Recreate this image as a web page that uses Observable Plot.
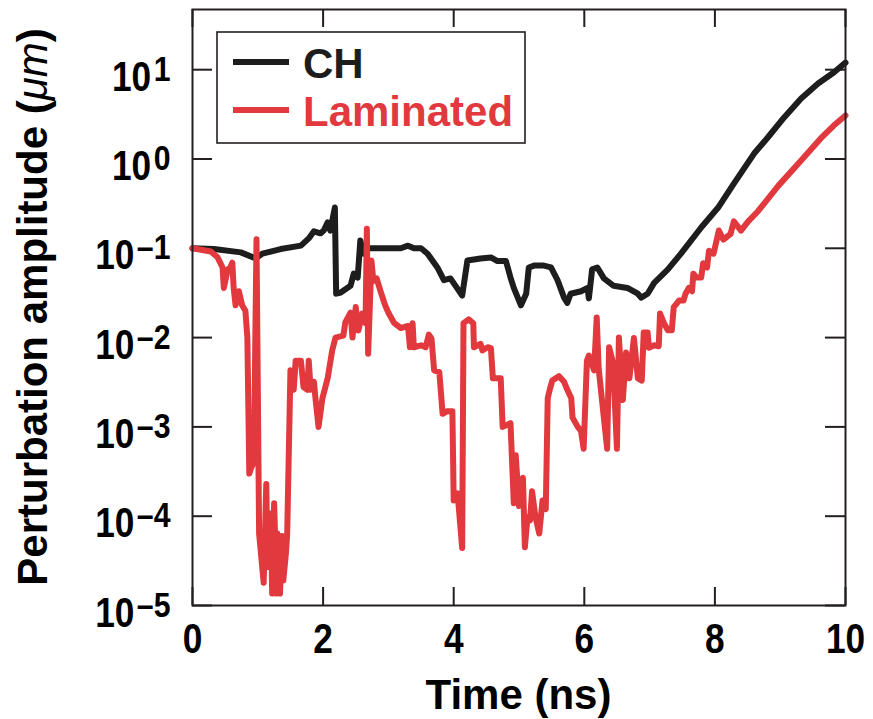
<!DOCTYPE html>
<html><head><meta charset="utf-8">
<script src="https://cdn.jsdelivr.net/npm/d3@7"></script>
<script src="https://cdn.jsdelivr.net/npm/@observablehq/plot@0.6"></script>
<style>body{margin:0;background:#fff}#chart{width:873px;height:719px}</style>
</head><body><div id="chart"></div>
<script>
// ---- data (time in ns, amplitude in µm) ----
const chTime = [0,0.33,0.74,0.97,1.07,1.35,1.66,1.78,1.86,1.96,2.01,2.07,2.11,2.18,2.20,2.27,2.42,2.47,2.53,2.57,2.62,2.68,2.99,3.19,3.30,3.39,3.50,3.60,3.75,3.85,3.95,4.13,4.21,4.41,4.57,4.67,4.80,4.87,4.92,5.03,5.11,5.15,5.23,5.38,5.49,5.59,5.69,5.74,5.79,5.95,6.05,6.07,6.12,6.20,6.30,6.45,6.66,6.82,6.87,6.97,7.07,7.28,7.48,7.79,8.05,8.29,8.60,8.81,9.06,9.32,9.58,9.82,10.0];
const chAmp = [0.100,0.098,0.090,0.077,0.087,0.098,0.107,0.129,0.155,0.147,0.158,0.195,0.158,0.286,0.031,0.032,0.038,0.052,0.047,0.122,0.087,0.100,0.100,0.100,0.107,0.100,0.100,0.087,0.061,0.044,0.046,0.0295,0.073,0.077,0.079,0.072,0.072,0.047,0.036,0.023,0.031,0.061,0.064,0.064,0.061,0.044,0.028,0.0245,0.031,0.033,0.036,0.0275,0.058,0.061,0.046,0.038,0.036,0.031,0.028,0.031,0.041,0.058,0.087,0.171,0.286,0.53,1.15,1.74,2.92,4.77,7.0,9.3,12.0];

const lamTime = [0,0.28,0.38,0.46,0.48,0.54,0.58,0.61,0.63,0.66,0.71,0.76,0.81,0.84,0.87,0.90,0.94,0.98,1.02,1.09,1.13,1.15,1.20,1.22,1.25,1.29,1.30,1.34,1.37,1.39,1.43,1.45,1.50,1.55,1.58,1.66,1.70,1.76,1.78,1.81,1.86,1.88,1.93,1.99,2.07,2.14,2.19,2.31,2.34,2.42,2.45,2.50,2.54,2.60,2.65,2.67,2.69,2.74,2.77,2.82,2.88,2.95,3.00,3.09,3.19,3.30,3.33,3.37,3.39,3.50,3.57,3.62,3.66,3.70,3.78,3.83,3.90,3.98,4.00,4.06,4.13,4.15,4.23,4.30,4.31,4.41,4.44,4.52,4.57,4.60,4.72,4.75,4.87,4.92,4.95,5.00,5.06,5.09,5.13,5.17,5.20,5.25,5.31,5.36,5.41,5.44,5.47,5.51,5.61,5.69,5.74,5.80,5.82,5.90,5.95,5.99,6.04,6.07,6.15,6.19,6.22,6.35,6.38,6.44,6.50,6.53,6.59,6.64,6.69,6.76,6.82,6.88,6.91,6.97,6.99,7.07,7.14,7.16,7.22,7.28,7.34,7.37,7.45,7.52,7.55,7.60,7.65,7.67,7.72,7.79,7.82,7.88,7.91,7.98,8.06,8.13,8.24,8.29,8.40,8.51,8.66,8.97,9.32,9.62,9.82,10.0];
const lamAmp = [0.100,0.092,0.080,0.061,0.036,0.058,0.061,0.069,0.036,0.023,0.033,0.023,0.020,0.010,0.00030,0.00035,0.00040,0.126,0.000064,0.000018,0.00023,0.000027,0.000107,0.0000136,0.00014,0.0000136,0.000064,0.0000136,0.00006,0.000019,0.000038,0.000064,0.0043,0.0026,0.0055,0.0055,0.0028,0.0026,0.0055,0.0026,0.0032,0.0022,0.0010,0.0021,0.0035,0.0072,0.010,0.0105,0.0148,0.019,0.010,0.022,0.012,0.0186,0.0145,0.166,0.0066,0.073,0.043,0.046,0.033,0.023,0.019,0.0145,0.0128,0.0135,0.0078,0.0145,0.0078,0.0082,0.0078,0.0108,0.0098,0.0043,0.0041,0.0014,0.0015,0.0015,0.00015,0.00018,0.000044,0.0145,0.016,0.0145,0.0078,0.0085,0.0072,0.0078,0.0076,0.0035,0.0035,0.0010,0.0011,0.00014,0.00048,0.00013,0.00027,0.000045,0.000097,0.00009,0.00019,0.0001,0.000064,0.00015,0.00012,0.0021,0.0026,0.0033,0.0037,0.0032,0.0026,0.0021,0.00127,0.0010,0.0009,0.00057,0.0055,0.0063,0.0043,0.0168,0.0045,0.00057,0.0078,0.0052,0.00057,0.010,0.0020,0.0068,0.0035,0.0099,0.0035,0.0033,0.0114,0.0114,0.0077,0.0082,0.0080,0.0186,0.0145,0.0121,0.0121,0.022,0.026,0.026,0.031,0.036,0.033,0.052,0.047,0.047,0.068,0.061,0.094,0.087,0.158,0.125,0.145,0.20,0.158,0.20,0.26,0.50,0.96,1.7,2.37,3.07];

const xTicks = [0,2,4,6,8,10];
const yTicks = [1e-5,1e-4,1e-3,1e-2,1e-1,1,10];
const seriesNames = ["CH","Laminated"];
const seriesColors = ["#1d1d1d","#e1393e"];
const xTitle = "Time (ns)";
const yTitle = "Perturbation amplitude (";
const yUnit = "\u03bcm";

// ---- table ----
const rows = [
  ...chTime.map((t,i)=>({series:seriesNames[0], t, amp:chAmp[i]})),
  ...lamTime.map((t,i)=>({series:seriesNames[1], t, amp:lamAmp[i]}))
];

function hasFont(name){
  const c=document.createElement("canvas").getContext("2d");
  c.font='bold 42px monospace'; const a=c.measureText("10abcmW").width;
  c.font='bold 42px "'+name+'", monospace'; const b=c.measureText("10abcmW").width;
  return Math.abs(a-b)>0.5;
}
const narrow = hasFont("Liberation Sans Narrow");
const labelFont = '"Liberation Sans", Arial, Helvetica, sans-serif';
const tickFont = narrow ? '"Liberation Sans Narrow", "Arial Narrow", sans-serif' : labelFont;
const squeeze = narrow ? 1 : 0.84;

const W=873,H=719,mL=192,mR=28,mT=9,mB=114;
const pw=W-mL-mR, ph=H-mT-mB;
const ink="#231f20";

const plot = Plot.plot({
  width:W, height:H, marginLeft:mL, marginRight:mR, marginTop:mT, marginBottom:mB,
  style:{background:"#fff", fontFamily:labelFont},
  x:{domain:[0,10]},
  y:{type:"log", domain:[1e-5, 47.2]},
  color:{domain:seriesNames, range:seriesColors},
  marks:[
    Plot.axisX(xTicks,{anchor:"bottom", tickSize:0, tickPadding:18, label:null, tickFormat:d=>String(d), fontSize:42, fontWeight:"bold", fontFamily:tickFont, fill:"#000"}),
    Plot.axisY(yTicks,{anchor:"left", tickSize:0, tickPadding:22, label:null, tickFormat:d=>String(Math.round(Math.log10(d))), fontSize:42, fontWeight:"bold", fontFamily:tickFont, fill:"#000"}),
    Plot.tickY(yTicks,{y:d=>d, insetRight:pw-20, stroke:ink, strokeWidth:2}),
    Plot.tickY(yTicks,{y:d=>d, insetLeft:pw-20, stroke:ink, strokeWidth:2}),
    Plot.tickX(xTicks,{x:d=>d, insetTop:ph-18, stroke:ink, strokeWidth:2}),
    Plot.tickX(xTicks,{x:d=>d, insetBottom:ph-18, stroke:ink, strokeWidth:2}),
    Plot.line(rows,{x:"t", y:"amp", z:"series", stroke:"series", strokeWidth:6, strokeLinejoin:"round", strokeLinecap:"round"}),
    Plot.frame({stroke:ink, strokeWidth:2})
  ]
});
document.getElementById("chart").appendChild(plot);

const svg = d3.select(plot);
// superscript y tick labels
svg.selectAll('g[aria-label="y-axis tick label"] text').each(function(){
  const t=d3.select(this); const e=t.text();
  t.text(null); t.attr("y","0.5em").attr("dy",null);
  t.append("tspan").text("10");
  t.append("tspan").attr("font-size","36px").attr("dx","3").attr("dy","-10").text(e.replace("-","\u2013"));
});
// condensed look for tick labels
if (squeeze !== 1) {
  svg.selectAll('g[aria-label="y-axis tick label"] text, g[aria-label="x-axis tick label"] text').each(function(){
    const cx = +(this.getAttribute("x") || 0);
    const old = this.getAttribute("transform") || "";
    this.setAttribute("transform", `${old} translate(${cx},0) scale(${squeeze},1) translate(${-cx},0)`);
  });
}

// axis titles
svg.append("text").attr("x", mL+pw/2).attr("y", 709).attr("text-anchor","middle")
  .attr("font-family",labelFont).attr("font-weight","bold").attr("font-size",42).attr("fill","#000").text(xTitle);
const yt = svg.append("text").attr("transform",`translate(47,${mT+ph/2}) rotate(-90)`).attr("text-anchor","middle")
  .attr("font-family",labelFont).attr("font-weight","bold").attr("font-size",42).attr("fill","#000");
yt.append("tspan").text(yTitle);
yt.append("tspan").attr("font-style","italic").attr("font-weight","normal").text(yUnit);
yt.append("tspan").text(")");

// legend
const lg = svg.append("g");
lg.append("rect").attr("x",217).attr("y",32).attr("width",308).attr("height",111)
  .attr("fill","#fff").attr("stroke",ink).attr("stroke-width",1.6);
seriesNames.forEach((n,i)=>{
  const cy = 62 + i*48;
  lg.append("line").attr("x1",233).attr("x2",289).attr("y1",cy).attr("y2",cy)
    .attr("stroke",seriesColors[i]).attr("stroke-width",6);
  lg.append("text").attr("x",303).attr("y",cy+16).attr("text-anchor","start").attr("font-family",labelFont)
    .attr("font-weight","bold").attr("font-size",42).attr("fill",seriesColors[i]).text(n);
});
</script></body></html>
